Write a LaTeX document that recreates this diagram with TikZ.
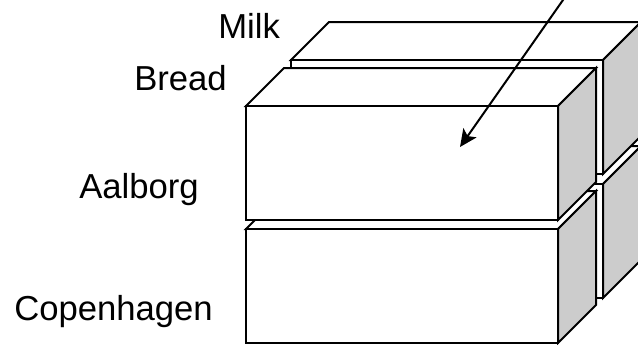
\documentclass[tikz,border=0pt]{standalone}
\usepackage{fontspec}
\setmainfont{Liberation Sans}
\usetikzlibrary{arrows.meta}

% brick: front face 312 x 114, receding depth (38,-38), shaded right side
\newcommand{\brick}[3]{%
  \begin{scope}[shift={(#1,#2)}]
    \filldraw[edge, fill=white] (0,0) -- (38,-38) -- (350,-38) -- (312,0) -- cycle;
    \filldraw[edge, fill=sidegray] (312,0) -- (350,-38) -- (350,76) -- (312,114) -- cycle;
    \filldraw[edge, fill=white] (0,0) rectangle (312,114);
    \coordinate (#3) at (156,57);
  \end{scope}}

\definecolor{sidegray}{RGB}{204,204,204}

\begin{document}
\begin{tikzpicture}[x=0.75pt, y=-0.75pt,
  edge/.style={draw=black, line width=1.5pt, line join=miter},
  lbl/.style={anchor=base west, inner sep=0pt, font=\fontsize{26}{30}\selectfont},
  pointer/.style={draw=black, line width=1.5pt, -{Stealth[length=13pt, width=12pt, inset=3pt]}}]
  \useasboundingbox (0,0) rectangle (638,344);
  \clip (0,0) rectangle (638,344);

  % rear column (lower first, upper covers its top face)
  \brick{291}{184}{rearlow}
  \brick{291}{60}{rearup}
  % front column
  \brick{246}{229}{frontlow}
  \brick{246}{106}{frontup}

  % dimension labels
  \node[lbl] (milk) at (218,38) {Milk};
  \node[lbl] (bread) at (134,90) {Bread};
  \node[lbl] (aalborg) at (79,198) {Aalborg};
  \node[lbl] (cph) at (14,320) {Copenhagen};

  % pointer into the Aalborg/Bread cell
  \coordinate (ptrstart) at (570,-10);
  \coordinate (ptrtip) at (460,147);
  \draw[pointer] (ptrstart) -- (ptrtip);
\end{tikzpicture}
\end{document}
